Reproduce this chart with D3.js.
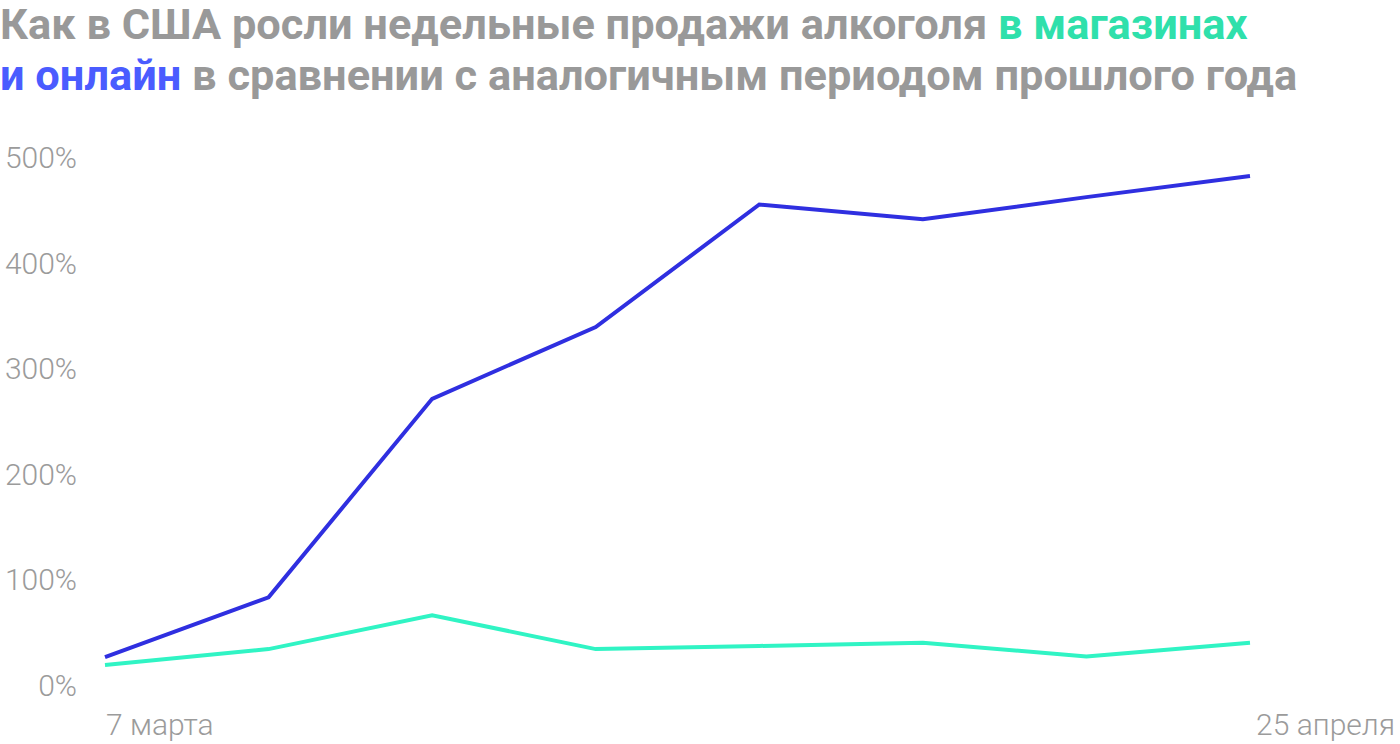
<!DOCTYPE html>
<html><head><meta charset="utf-8">
<script src="https://cdn.jsdelivr.net/npm/d3@7"></script>
<style>
body{margin:0;background:#fff;}
svg{display:block;font-family:Roboto,"Noto Sans",sans-serif;}
</style></head>
<body>
<svg id="c" width="1400" height="744"></svg>
<script>
const weeks = ["7 марта","14 марта","21 марта","28 марта","4 апреля","11 апреля","18 апреля","25 апреля"];
const online = [26.5, 83, 271, 339, 455, 441, 462, 482];
const stores = [19, 34, 66, 34, 37, 40, 27, 40];
const yTicks = [0, 100, 200, 300, 400, 500];
const xLabels = ["7 марта", "25 апреля"];

const svg = d3.select("#c");
const x = d3.scalePoint().domain(weeks).range([105, 1250]);
const y = d3.scaleLinear().domain([0, 500]).range([685, 157]);

// title
const title = svg.append("g").attr("font-weight", 700).attr("font-size", 40).attr("fill", "#999999");
const t1 = title.append("text").attr("x", 0).attr("y", 39);
t1.append("tspan").text("Как в США росли недельные продажи алкоголя ");
t1.append("tspan").attr("fill", "#2fe0ab").text("в магазинах");
const t2 = title.append("text").attr("x", 0).attr("y", 90);
t2.append("tspan").attr("fill", "#4a5cff").text("и онлайн");
t2.append("tspan").text(" в сравнении с аналогичным периодом прошлого года");
const w1 = t1.node().getComputedTextLength();
const fs = 40 * 1248 / w1;
title.attr("font-size", fs);

const lblStyle = sel => sel.attr("font-size", 30).attr("fill", "#9b9b9b").attr("font-weight", 300).attr("font-family", "Roboto,sans-serif");

// y axis labels
const yAxis = d3.axisLeft(y).tickValues(yTicks).tickFormat(d => d + "%").tickSize(0).tickPadding(0);
const ya = svg.append("g").attr("transform", "translate(77,0)").call(yAxis);
ya.select(".domain").remove();
ya.selectAll("text").call(lblStyle).attr("dy", "0.35em");

// x labels
const xa = svg.append("g");
xa.append("text").attr("x", x(xLabels[0]) + 1).attr("y", 735).call(lblStyle).text(xLabels[0]);
xa.append("text").attr("x", 1395).attr("y", 735).attr("text-anchor", "end").call(lblStyle).text(xLabels[1]);

const line = d3.line().x((d, i) => x(weeks[i])).y(d => y(d));
svg.append("path").datum(stores).attr("d", line).attr("fill", "none").attr("stroke", "#30f4c4").attr("stroke-width", 4);
svg.append("path").datum(online).attr("d", line).attr("fill", "none").attr("stroke", "#2f2fe0").attr("stroke-width", 4);
</script>
</body></html>
